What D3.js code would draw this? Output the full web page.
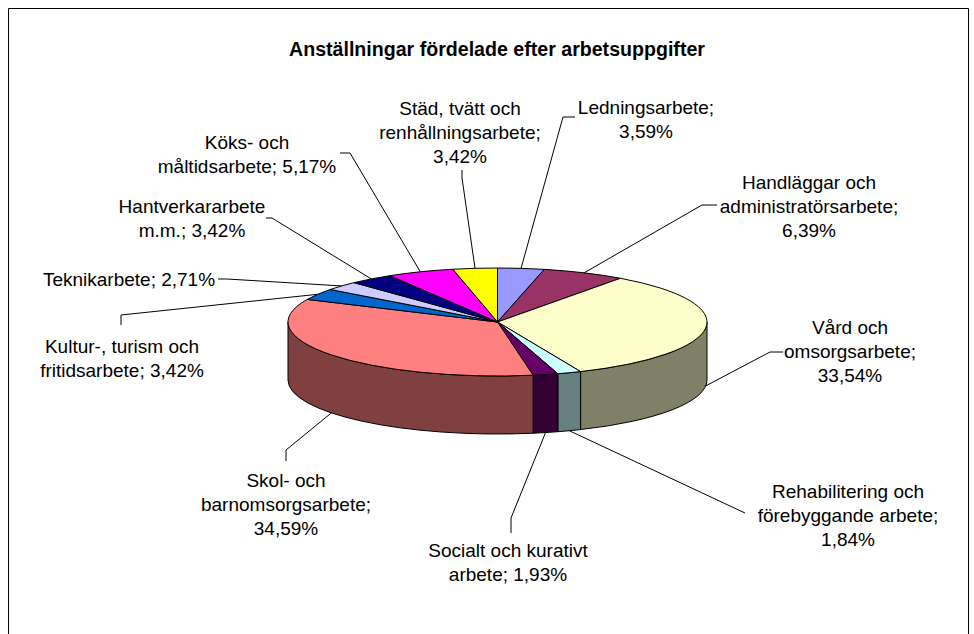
<!DOCTYPE html>
<html>
<head>
<meta charset="utf-8">
<script src="https://cdn.jsdelivr.net/npm/d3@7"></script>
<style>
  body { margin: 0; background: #fff; }
  svg text { font-family: "Liberation Sans", Arial, sans-serif; fill: #000; }
</style>
</head>
<body>
<svg id="chart" width="974" height="634"></svg>
<script>
// data, clockwise from 12 o'clock (as Excel draws it)
const categories = [
  "Ledningsarbete",
  "Handläggar och administratörsarbete",
  "Vård och omsorgsarbete",
  "Rehabilitering och förebyggande arbete",
  "Socialt och kurativt arbete",
  "Skol- och barnomsorgsarbete",
  "Kultur-, turism och fritidsarbete",
  "Teknikarbete",
  "Hantverkararbete m.m.",
  "Köks- och måltidsarbete",
  "Städ, tvätt och renhållningsarbete"
];
const shares = [3.59, 6.39, 33.54, 1.84, 1.93, 34.59, 3.42, 2.71, 3.42, 5.17, 3.42];
const colors = ["#9999FF", "#993366", "#FFFFCC", "#CCFFFF", "#660066", "#FF8080",
                "#0066CC", "#CCCCFF", "#000080", "#FF00FF", "#FFFF00"];
// label text as broken into lines in the chart
const labelLines = [
  ["Ledningsarbete;", "3,59%"],
  ["Handläggar och", "administratörsarbete;", "6,39%"],
  ["Vård och", "omsorgsarbete;", "33,54%"],
  ["Rehabilitering och", "förebyggande arbete;", "1,84%"],
  ["Socialt och kurativt", "arbete; 1,93%"],
  ["Skol- och", "barnomsorgsarbete;", "34,59%"],
  ["Kultur-, turism och", "fritidsarbete; 3,42%"],
  ["Teknikarbete; 2,71%"],
  ["Hantverkararbete", "m.m.; 3,42%"],
  ["Köks- och", "måltidsarbete; 5,17%"],
  ["Städ, tvätt och", "renhållningsarbete;", "3,42%"]
];
const title = "Anställningar fördelade efter arbetsuppgifter";

// layout: label centre x / first baseline, and leader line bend points
const labelPos = [
  [646, 114], [809, 189], [850, 334], [848, 498], [508, 557], [286, 487],
  [122, 353], [129, 286], [192, 213], [247, 149], [460, 115]
];
const leaderBends = [
  [[563, 117], [575, 117]],
  [[702, 205], [717, 205]],
  [[770, 352], [783, 352]],
  [[745, 513]],
  [[511, 518], [511, 533]],
  [[286, 450], [286, 461]],
  [[121, 315], [121, 325]],
  [[227, 279], [218, 279]],
  [[272, 218], [266, 218]],
  [[350, 153], [340, 153]],
  [[462, 178], [462, 170]]
];

const W = 974, H = 634;
const cx = 497.5, cy = 322, rx = 209.5, ry = 54, depth = 58;
const lineH = 24;

const svg = d3.select("#chart");

// frame
svg.append("path")
  .attr("d", `M8.5,${H} V8.5 H968.5 V${H}`)
  .attr("fill", "none")
  .attr("stroke", "#000")
  .attr("stroke-width", 1);

svg.append("text")
  .attr("x", 497)
  .attr("y", 56)
  .attr("text-anchor", "middle")
  .style("font-size", "19.6px")
  .style("font-weight", "bold")
  .text(title);

const pie = d3.pie().sort(null).value(d => d).startAngle(0).endAngle(2 * Math.PI);
const arcs = pie(shares);

// point on the projected rim, angle clockwise from top
function pt(a, dy = 0) {
  return [cx + rx * Math.sin(a), cy - ry * Math.cos(a) + dy];
}
function half(c) {
  let col = d3.rgb(c);
  return d3.rgb(col.r / 2, col.g / 2, col.b / 2).formatHex();
}

const g = svg.append("g");

// side walls (only the front half is visible)
arcs.forEach((d, i) => {
  let s = Math.max(d.startAngle, Math.PI / 2);
  let e = Math.min(d.endAngle, 3 * Math.PI / 2);
  if (s >= e) return;
  let p0 = pt(s), p1 = pt(e), p2 = pt(e, depth), p3 = pt(s, depth);
  let big = (e - s) > Math.PI ? 1 : 0;
  g.append("path")
    .attr("d", `M${p0} A${rx},${ry} 0 ${big} 1 ${p1} L${p2} A${rx},${ry} 0 ${big} 0 ${p3} Z`)
    .attr("fill", half(colors[i]))
    .attr("stroke", "#000")
    .attr("stroke-width", 1)
    .attr("stroke-linejoin", "round");
});

// top faces
arcs.forEach((d, i) => {
  let p0 = pt(d.startAngle), p1 = pt(d.endAngle);
  let big = (d.endAngle - d.startAngle) > Math.PI ? 1 : 0;
  g.append("path")
    .attr("d", `M${cx},${cy} L${p0} A${rx},${ry} 0 ${big} 1 ${p1} Z`)
    .attr("fill", colors[i])
    .attr("stroke", "#000")
    .attr("stroke-width", 1)
    .attr("stroke-linejoin", "round");
});

// leader lines: from the middle of each slice (rim, or wall bottom in front)
const line = d3.line();
arcs.forEach((d, i) => {
  let mid = (d.startAngle + d.endAngle) / 2;
  let front = Math.cos(mid) < 0;
  let a = pt(mid, front ? depth : 0);
  svg.append("path")
    .attr("d", line([a].concat(leaderBends[i])))
    .attr("fill", "none")
    .attr("stroke", "#000")
    .attr("stroke-width", 1);
});

// labels
labelLines.forEach((lines, i) => {
  let t = svg.append("text")
    .attr("text-anchor", "middle")
    .style("font-size", "19px");
  lines.forEach((s, j) => {
    t.append("tspan")
      .attr("x", labelPos[i][0])
      .attr("y", labelPos[i][1] + j * lineH)
      .text(s);
  });
});
</script>
</body>
</html>
